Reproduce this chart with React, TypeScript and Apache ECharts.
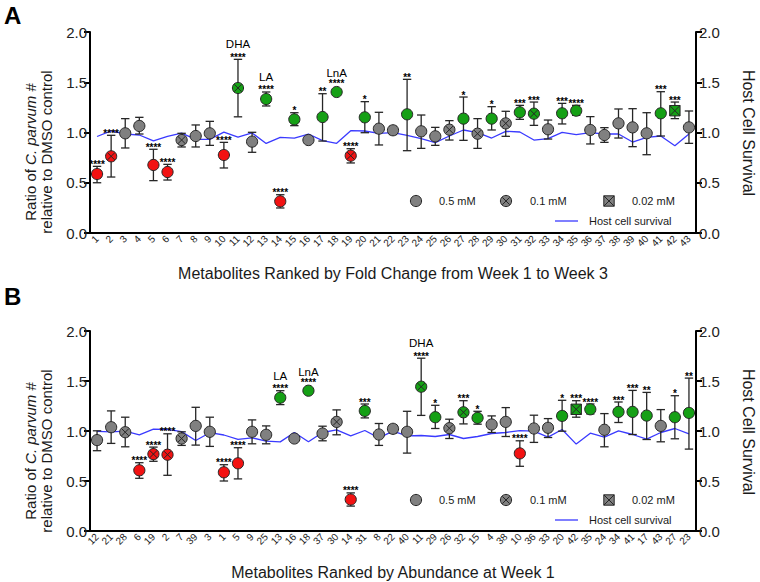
import React, { useEffect, useRef } from "react";
import * as echarts from "echarts";

// Metabolite ids in fold-change order (panel A) and abundance order (panel B)
const foldChangeOrder = [1,2,3,4,5,6,7,8,9,10,11,12,13,14,15,16,17,18,19,20,21,22,23,24,25,26,27,28,29,30,31,32,33,34,35,36,37,38,39,40,41,42,43];
const abundanceOrder = [12,21,28,6,19,2,7,39,3,1,5,9,25,13,16,18,37,30,14,31,8,22,40,11,29,26,32,15,4,38,10,36,33,20,42,35,24,34,41,17,43,27,23];

// Values indexed by metabolite id - 1
const meanRatio = [0.587,0.763,0.992,1.065,0.677,0.607,0.925,0.965,0.992,0.776,1.443,0.909,1.333,0.315,1.131,0.925,1.154,1.403,0.769,1.151,1.038,1.022,1.181,1.012,0.962,1.028,1.138,0.988,1.138,1.091,1.201,1.187,1.032,1.191,1.217,1.025,0.975,1.091,1.051,0.992,1.191,1.217,1.051];
const upperErr = [0.663,0.972,1.138,1.151,0.833,0.683,0.992,1.075,1.111,0.902,1.728,1.002,1.403,0.381,1.197,null,1.386,null,0.839,1.307,1.201,1.06,1.529,1.174,1.051,1.118,1.353,1.138,1.257,1.211,1.27,1.303,1.124,1.29,1.27,1.158,1.048,1.234,1.237,1.197,1.406,1.303,1.214];
const lowerErr = [0.5,0.557,0.846,0.985,0.521,0.527,0.856,0.856,0.872,0.647,1.156,0.803,1.264,0.249,1.068,null,0.915,null,0.697,0.998,0.876,0.98,0.819,0.842,0.872,0.925,0.922,0.842,1.025,0.962,1.131,1.071,0.935,1.085,1.171,0.886,0.902,0.945,0.859,0.779,0.965,1.138,0.892];
const hostSurvival = [0.96,1.016,0.983,0.975,0.917,0.962,0.994,0.932,0.932,1.004,0.955,0.996,0.891,0.951,0.945,0.985,0.919,0.892,1.018,1.015,0.992,0.998,0.972,0.939,0.899,0.965,1.025,0.998,0.945,1.012,1.005,0.925,0.939,1.002,0.978,0.998,0.985,0.985,0.905,0.952,0.965,0.869,0.985];
// c = 0.5 mM (circle), x = 0.1 mM (crossed circle), s = 0.02 mM (crossed square)
const doseShape = ["c","x","c","c","c","c","x","c","c","c","x","c","c","c","c","c","c","c","x","c","c","c","c","c","c","x","c","x","c","x","c","x","c","c","c","c","c","c","c","c","c","s","c"];
// n = not significant, d = decrease, u = increase
const effect = ["d","d","n","n","d","d","n","n","n","d","u","n","u","d","u","n","u","u","d","u","n","n","u","n","n","n","u","n","u","n","u","u","n","u","u","n","n","n","n","n","u","u","n"];
const significance = ["****","****","","","****","****","","","","****","****","","****","****","*","","**","****","****","*","","","**","","","","*","","*","","***","***","","***","****","","","","","","***","***",""];
const metaboliteNames: Record<number, string> = { 11: "DHA", 13: "LA", 18: "LnA" };

const yTicks = [0, 0.5, 1.0, 1.5, 2.0];
const legendLabels = ["0.5 mM", "0.1 mM", "0.02 mM", "Host cell survival"];
const panelTitles = ["Metabolites Ranked by Fold Change from Week 1 to Week 3", "Metabolites Ranked by Abundance at Week 1"];

const FONT = "'Liberation Sans', Arial, Helvetica, sans-serif";
const COLORS: Record<string, string> = { n: "#808080", d: "#f21212", u: "#15a015" };
const DARK = "#262626";

function markerEls(shape: string, x: number, y: number, fill: string) {
  const els: any[] = [];
  const lw = 1;
  if (shape === "s") {
    const h = 5.2;
    els.push({ type: "rect", shape: { x: x - h, y: y - h, width: 2 * h, height: 2 * h }, style: { fill, stroke: DARK, lineWidth: lw } });
    els.push({ type: "line", shape: { x1: x - h, y1: y - h, x2: x + h, y2: y + h }, style: { stroke: DARK, lineWidth: lw } });
    els.push({ type: "line", shape: { x1: x + h, y1: y - h, x2: x - h, y2: y + h }, style: { stroke: DARK, lineWidth: lw } });
  } else {
    const r = 5.6;
    els.push({ type: "circle", shape: { cx: x, cy: y, r }, style: { fill, stroke: DARK, lineWidth: lw } });
    if (shape === "x") {
      const d = 3.6;
      els.push({ type: "line", shape: { x1: x - d, y1: y - d, x2: x + d, y2: y + d }, style: { stroke: DARK, lineWidth: lw } });
      els.push({ type: "line", shape: { x1: x + d, y1: y - d, x2: x - d, y2: y + d }, style: { stroke: DARK, lineWidth: lw } });
    }
  }
  return els;
}

function txt(text: string, x: number, y: number, size: number, opts: any = {}) {
  return {
    type: "text",
    style: {
      text, x, y,
      fill: opts.fill || "#1a1a1a",
      font: `${opts.weight || "normal"} ${size}px ${FONT}`,
      align: opts.align || "center", verticalAlign: opts.va || "middle",
      textAlign: opts.align || "center", textVerticalAlign: opts.va || "middle",
    },
  };
}

function makeRender(order: number[]) {
  return (params: any, api: any) => {
    const k = params.dataIndex;
    const j = order[k] - 1;
    const [x, yM] = api.coord([k, meanRatio[j]]);
    const children: any[] = [];
    let starY = yM - 8;
    let labelY = yM - 19;
    if (upperErr[j] != null && lowerErr[j] != null) {
      const yH = api.coord([k, upperErr[j]])[1];
      const yL = api.coord([k, lowerErr[j]])[1];
      const cw = 4.2;
      const st = { stroke: DARK, lineWidth: 1.3 };
      children.push({ type: "line", shape: { x1: x, y1: yH, x2: x, y2: yL }, style: st });
      children.push({ type: "line", shape: { x1: x - cw, y1: yH, x2: x + cw, y2: yH }, style: st });
      children.push({ type: "line", shape: { x1: x - cw, y1: yL, x2: x + cw, y2: yL }, style: st });
      starY = yH - 2;
      labelY = yH - 15;
    }
    children.push(...markerEls(doseShape[j], x, yM, COLORS[effect[j]]));
    if (significance[j]) children.push(txt(significance[j], x, starY, 10, { weight: "bold", fill: "#000" }));
    const nm = metaboliteNames[order[k]];
    if (nm) children.push(txt(nm, x, labelY, 11.5, { fill: "#000" }));
    return { type: "group", children };
  };
}

function legendGroup(y0: number) {
  const els: any[] = [];
  els.push(...markerEls("c", 416, y0, "#808080"));
  els.push(txt(legendLabels[0], 439, y0, 11, { align: "left" }));
  els.push(...markerEls("x", 506, y0, "#808080"));
  els.push(txt(legendLabels[1], 530, y0, 11, { align: "left" }));
  els.push(...markerEls("s", 609, y0, "#808080"));
  els.push(txt(legendLabels[2], 632, y0, 11, { align: "left" }));
  els.push({ type: "line", shape: { x1: 555, y1: y0 + 20, x2: 578, y2: y0 + 20 }, style: { stroke: "#3a3aff", lineWidth: 1.3 } });
  els.push(txt(legendLabels[3], 589, y0 + 20, 11, { align: "left" }));
  return els;
}

function panelTexts(dy: number, letter: string, letterY: number, xTitle: string) {
  const els: any[] = [];
  els.push(txt(letter, 4, letterY, 24, { weight: "bold", align: "left", fill: "#000" }));
  els.push({
    type: "text", x: 30, y: 152 + dy, rotation: Math.PI / 2,
    style: {
      text: "{a|Ratio of }{i|C. parvum}{a| #}", x: 0, y: 0,
      align: "center", verticalAlign: "middle", textAlign: "center", textVerticalAlign: "middle",
      rich: {
        a: { fontSize: 15, fontFamily: FONT, fill: "#1a1a1a", color: "#1a1a1a" },
        i: { fontSize: 15, fontFamily: FONT, fontStyle: "italic", fill: "#1a1a1a", color: "#1a1a1a" },
      },
    },
  });
  els.push({
    type: "text", x: 46, y: 152 + dy, rotation: Math.PI / 2,
    style: {
      text: "relative to DMSO control", x: 0, y: 0, fill: "#1a1a1a", font: `15px ${FONT}`,
      align: "center", verticalAlign: "middle", textAlign: "center", textVerticalAlign: "middle",
    },
  });
  els.push({
    type: "text", x: 748, y: 133 + dy, rotation: -Math.PI / 2,
    style: {
      text: "Host Cell Survival", x: 0, y: 0, fill: "#1a1a1a", font: `16px ${FONT}`,
      align: "center", verticalAlign: "middle", textAlign: "center", textVerticalAlign: "middle",
    },
  });
  els.push(txt(xTitle, 393, 273 + dy, 16));
  return els;
}

export default function App() {
  const ref = useRef<HTMLDivElement>(null);
  useEffect(() => {
    if (!ref.current) return;
    const chart = echarts.init(ref.current, null, { renderer: "svg" });
    const orders = [foldChangeOrder, abundanceOrder];
    const grids = [
      { left: 90, top: 32, width: 606, height: 201 },
      { left: 90, top: 331, width: 606, height: 200 },
    ];
    const xAxes: any[] = [];
    const yAxes: any[] = [];
    const series: any[] = [];
    orders.forEach((order, g) => {
      xAxes.push({
        type: "category", gridIndex: g, data: order.map(String), boundaryGap: true,
        axisLine: { lineStyle: { color: "#000", width: 2 } },
        axisTick: { alignWithLabel: true, length: 5, lineStyle: { color: "#000", width: 1.5 } },
        axisLabel: { rotate: 45, fontSize: 10, color: "#222", margin: 4, interval: 0, fontFamily: FONT },
        splitLine: { show: false },
      });
      ["left", "right"].forEach((pos) => {
        yAxes.push({
          type: "value", gridIndex: g, position: pos, min: yTicks[0], max: yTicks[yTicks.length - 1], interval: 0.5,
          axisLine: { show: true, lineStyle: { color: "#000", width: 2 } },
          axisTick: { show: true, length: 6, lineStyle: { color: "#000", width: 2 } },
          axisLabel: { fontSize: 15, color: "#222", margin: 3, fontFamily: FONT, formatter: (v: number) => v.toFixed(1) },
          splitLine: { show: false },
        });
      });
      series.push({
        type: "line", xAxisIndex: g, yAxisIndex: g * 2 + 1,
        data: order.map((id) => hostSurvival[id - 1]),
        symbol: "none", lineStyle: { color: "#3a3aff", width: 1.3 }, z: 1, silent: true,
      });
      series.push({
        type: "custom", xAxisIndex: g, yAxisIndex: g * 2,
        data: order.map((id, k) => [k, meanRatio[id - 1]]),
        renderItem: makeRender(order), z: 3, clip: false, silent: true,
      });
    });
    chart.setOption({
      animation: false,
      backgroundColor: "#fff",
      textStyle: { fontFamily: FONT },
      grid: grids,
      xAxis: xAxes,
      yAxis: yAxes,
      series,
      graphic: [
        ...legendGroup(201),
        ...legendGroup(500),
        ...panelTexts(0, "A", 15, panelTitles[0]),
        ...panelTexts(299, "B", 296, panelTitles[1]),
      ],
    });
    return () => chart.dispose();
  }, []);
  return <div ref={ref} style={{ width: 760, height: 582, position: "absolute", left: 0, top: 0 }} />;
}
